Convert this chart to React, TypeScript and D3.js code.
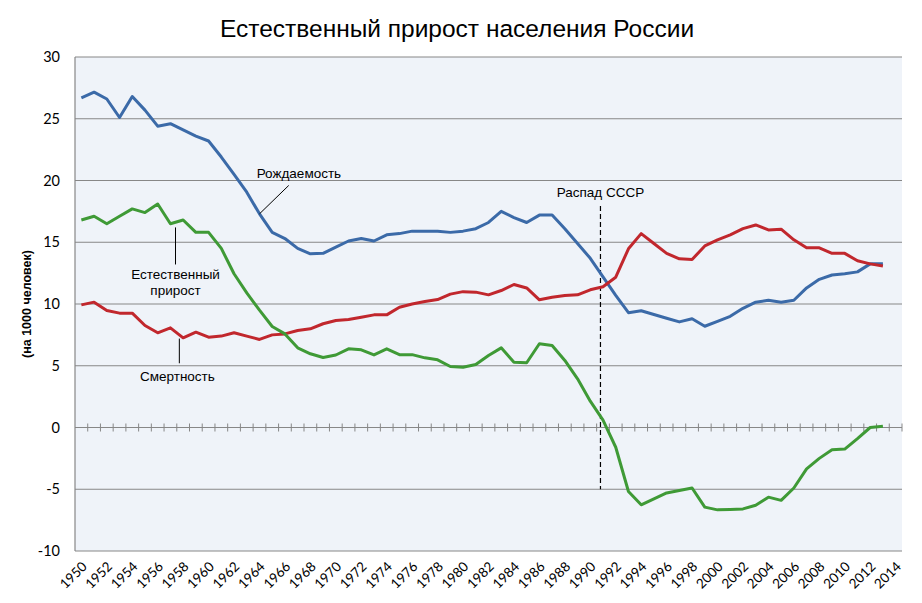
import * as d3 from "d3"

// годы по оси (последняя категория пустая)
const axisYears = d3.range(1950, 2015)
const dataYears = d3.range(1950, 2014)

// Рождаемость, на 1000 человек
const birthRate = [
  26.7, 27.15, 26.6, 25.1, 26.8, 25.7, 24.4, 24.6, 24.1, 23.6,
  23.2, 21.9, 20.5, 19.05, 17.3, 15.8, 15.3, 14.5, 14.06, 14.1,
  14.6, 15.1, 15.3, 15.1, 15.6, 15.7, 15.9, 15.9, 15.9, 15.8,
  15.9, 16.1, 16.6, 17.5, 17.0, 16.6, 17.2, 17.2, 16.1, 14.9,
  13.7, 12.2, 10.7, 9.3, 9.45, 9.15, 8.85, 8.55, 8.8, 8.2,
  8.6, 9.0, 9.65, 10.15, 10.3, 10.15, 10.3, 11.3, 12.0, 12.35,
  12.45, 12.6, 13.25, 13.25
]

// Смертность
const deathRate = [
  9.93, 10.15, 9.47, 9.26, 9.26, 8.26, 7.67, 8.07, 7.26, 7.72,
  7.31, 7.4, 7.67, 7.4, 7.13, 7.5, 7.58, 7.85, 7.99, 8.4,
  8.66, 8.74, 8.93, 9.12, 9.12, 9.74, 10.0, 10.2, 10.36, 10.8,
  11.0, 10.96, 10.74, 11.09, 11.58, 11.3, 10.34, 10.55, 10.69, 10.74,
  11.15, 11.4, 12.17, 14.47, 15.7, 14.9, 14.1, 13.66, 13.6, 14.7,
  15.2, 15.6, 16.1, 16.4, 16.0, 16.06, 15.2, 14.55, 14.55, 14.1,
  14.1, 13.5, 13.25, 13.07
]

// Естественный прирост
const naturalIncrease = [
  16.8, 17.1, 16.5, 17.1, 17.7, 17.4, 18.1, 16.5, 16.8, 15.8,
  15.8, 14.5, 12.45, 10.9, 9.5, 8.18, 7.58, 6.45, 5.97, 5.67,
  5.87, 6.37, 6.29, 5.88, 6.37, 5.9, 5.9, 5.64, 5.48, 4.94,
  4.88, 5.1, 5.83, 6.45, 5.29, 5.24, 6.78, 6.64, 5.43, 3.94,
  2.13, 0.6, -1.6, -5.18, -6.26, -5.78, -5.3, -5.1, -4.9, -6.45,
  -6.67, -6.64, -6.59, -6.3, -5.64, -5.9, -4.9, -3.35, -2.5, -1.8,
  -1.75, -0.9, 0.0, 0.1
]

const yTicks = [-10, -5, 0, 5, 10, 15, 20, 25, 30]
const xLabelYears = axisYears.filter((y) => y % 2 === 0)

const width = 922
const height = 603
const margin = { top: 57, right: 20, bottom: 52, left: 75 }

const series = [
  { name: "Рождаемость", values: birthRate, color: "#3b6aa8" },
  { name: "Смертность", values: deathRate, color: "#c1272d" },
  { name: "Естественный прирост", values: naturalIncrease, color: "#3f9a36" }
]

const labelFont = "'Liberation Sans', Arial, sans-serif"
const tickFont = "Lato, 'Open Sans', sans-serif"

export default function App() {
  const innerLeft = margin.left
  const innerRight = width - margin.right
  const innerTop = margin.top
  const innerBottom = height - margin.bottom

  const x = d3
    .scaleBand<number>()
    .domain(axisYears)
    .range([innerLeft, innerRight])
    .padding(0)
  const bw = x.bandwidth()
  const cx = (year: number) => (x(year) as number) + bw / 2
  // для подписей между категориями
  const xYear = d3.scaleLinear().domain([1950, 2015]).range([innerLeft, innerRight])

  const y = d3.scaleLinear().domain([-10, 30]).range([innerBottom, innerTop])

  const line = d3
    .line<number>()
    .x((_, i) => cx(dataYears[i]))
    .y((d) => y(d))
    .curve(d3.curveLinear)

  const y0 = y(0)

  return (
    <svg width={width} height={height} style={{ position: "absolute", left: 0, top: 0, display: "block" }}>
      <rect x={0} y={0} width={width} height={height} fill="#ffffff" />
      <rect x={innerLeft} y={innerTop} width={innerRight - innerLeft} height={innerBottom - innerTop} fill="#eff3f9" />

      {/* grid */}
      {yTicks.map((t) => (
        <line key={t} x1={innerLeft} x2={innerRight} y1={y(t)} y2={y(t)} stroke="#878787" strokeWidth={1.2} />
      ))}
      <line x1={innerLeft} x2={innerLeft} y1={innerTop} y2={innerBottom} stroke="#878787" strokeWidth={1.2} />

      {/* ticks on zero line */}
      {axisYears.map((yr) => (
        <line
          key={yr}
          x1={(x(yr) as number) + bw}
          x2={(x(yr) as number) + bw}
          y1={y0 - 4}
          y2={y0 + 4}
          stroke="#878787"
          strokeWidth={1}
        />
      ))}

      {/* y tick labels */}
      {yTicks.map((t) => (
        <text key={t} x={innerLeft - 15} y={y(t)} dy="0.35em" textAnchor="end" fontFamily={tickFont} fontSize={14.5} fill="#000">
          {t}
        </text>
      ))}

      <text
        transform={`translate(27,${(innerTop + innerBottom) / 2}) rotate(-90)`}
        textAnchor="middle"
        dy="0.35em"
        fontFamily={labelFont}
        fontWeight="bold"
        fontSize={12.5}
        fill="#000"
      >
        (на 1000 человек)
      </text>

      {/* x labels */}
      {xLabelYears.map((yr) => (
        <text
          key={yr}
          transform={`translate(${cx(yr) + 3},${innerBottom + 13}) rotate(-45)`}
          textAnchor="end"
          dy="0.35em"
          fontFamily={tickFont}
          fontSize={13.5}
          fill="#000"
        >
          {yr}
        </text>
      ))}

      {/* collapse of USSR */}
      <line
        x1={xYear(1991.3)}
        x2={xYear(1991.3)}
        y1={innerTop + 149}
        y2={y(-5)}
        stroke="#000"
        strokeWidth={1.2}
        strokeDasharray="5,3"
      />
      <text x={xYear(1991.3)} y={innerTop + 140} textAnchor="middle" fontFamily={labelFont} fontSize={13.5} fill="#000">
        Распад СССР
      </text>

      {/* lines */}
      {series.map((s) => (
        <path key={s.name} d={line(s.values) as string} fill="none" stroke={s.color} strokeWidth={3} strokeLinejoin="round" />
      ))}

      {/* annotations */}
      <line x1={cx(1964)} y1={y(17.3)} x2={xYear(1966.8)} y2={y(19.6)} stroke="#000" strokeWidth={1} />
      <text x={xYear(1967.6)} y={y(20.2)} textAnchor="middle" fontFamily={labelFont} fontSize={13.5} fill="#000">
        Рождаемость
      </text>

      <line x1={xYear(1957.9)} y1={y(16.2)} x2={xYear(1957.9)} y2={y(13.2)} stroke="#000" strokeWidth={1} />
      <text x={xYear(1957.9)} y={y(12.0)} textAnchor="middle" fontFamily={labelFont} fontSize={13.5} fill="#000">
        Естественный
      </text>
      <text x={xYear(1957.9)} y={y(10.7)} textAnchor="middle" fontFamily={labelFont} fontSize={13.5} fill="#000">
        прирост
      </text>

      <line x1={xYear(1958.2)} y1={y(7.2)} x2={xYear(1958.2)} y2={y(5.2)} stroke="#000" strokeWidth={1} />
      <text x={xYear(1958.05)} y={y(3.8)} textAnchor="middle" fontFamily={labelFont} fontSize={13.5} fill="#000">
        Смертность
      </text>

      {/* title */}
      <text x={457} y={37} textAnchor="middle" fontFamily={labelFont} fontSize={24.5} fill="#000">
        Естественный прирост населения России
      </text>
    </svg>
  )
}
